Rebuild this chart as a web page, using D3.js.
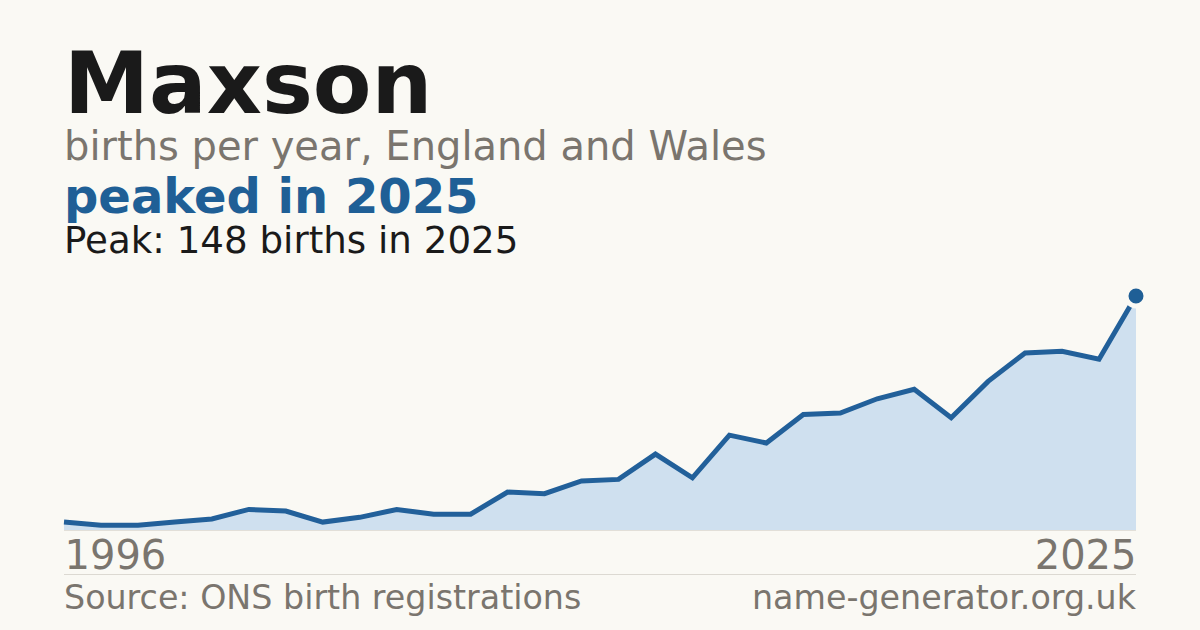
<!DOCTYPE html>
<html>
<head>
<meta charset="utf-8">
<script src="https://cdn.jsdelivr.net/npm/d3@7"></script>
<style>
  html, body { margin: 0; padding: 0; background: #faf9f4; }
  svg { display: block; font-family: "DejaVu Sans", sans-serif; }
</style>
</head>
<body>
<svg id="chart" width="1200" height="630"></svg>
<script>
var years = d3.range(1996, 2026)
var births = [5, 3, 3, 5, 7, 13, 12, 5, 8, 13, 10, 10, 24, 23, 31, 32,
  48, 33, 60, 55, 73, 74, 83, 89, 71, 94, 112, 113, 108, 148]
var tickYears = [1996, 2025]

var data = years.map(function(y, i) { return {year: y, value: births[i]} })
var peak = data.reduce(function(a, b) { return b.value > a.value ? b : a })

var svg = d3.select('#chart')
svg.append('rect').attr('width', 1200).attr('height', 630).attr('fill', '#faf9f4')

var plotLeft = 64, plotRight = 1136, plotBottom = 530, plotTop = 296

var x = d3.scaleLinear().domain([years[0], years[years.length - 1]]).range([plotLeft, plotRight])
var y = d3.scaleLinear().domain([0, peak.value]).range([plotBottom, plotTop])

// headings
svg.append('text').attr('x', plotLeft).attr('y', 113)
  .attr('font-size', 85.5).attr('font-weight', 'bold').attr('fill', '#1a1a1a')
  .text('Maxson')
svg.append('text').attr('x', plotLeft).attr('y', 160)
  .attr('font-size', 40).attr('fill', '#7a756e')
  .text('births per year, England and Wales')
svg.append('text').attr('x', plotLeft).attr('y', 213)
  .attr('font-size', 48).attr('font-weight', 'bold').attr('fill', '#1f5f96')
  .text('peaked in ' + peak.year)
svg.append('text').attr('x', plotLeft).attr('y', 253)
  .attr('font-size', 37.2).attr('fill', '#1a1a1a')
  .text('Peak: ' + peak.value + ' births in ' + peak.year)

// area + line
var area = d3.area()
  .x(function(d) { return x(d.year) })
  .y0(plotBottom)
  .y1(function(d) { return y(d.value) })
var line = d3.line()
  .x(function(d) { return x(d.year) })
  .y(function(d) { return y(d.value) })

svg.append('path').datum(data).attr('d', area).attr('fill', '#cfe0ef')
svg.append('line').attr('x1', plotLeft).attr('x2', plotRight)
  .attr('y1', plotBottom + 0.5).attr('y2', plotBottom + 0.5)
  .attr('stroke', '#e2dfd8').attr('stroke-width', 1)
svg.append('path').datum(data).attr('d', line)
  .attr('fill', 'none').attr('stroke', '#22609a').attr('stroke-width', 5)
  .attr('stroke-linejoin', 'miter')

svg.append('circle').attr('cx', x(peak.year)).attr('cy', y(peak.value)).attr('r', 10)
  .attr('fill', '#1f5f96').attr('stroke', '#faf9f4').attr('stroke-width', 5)

// x axis: end labels only
var xAxis = d3.axisBottom(x).tickValues(tickYears).tickFormat(d3.format('d')).tickSize(0)
var g = svg.append('g').attr('transform', 'translate(0,' + plotBottom + ')').call(xAxis)
g.select('.domain').remove()
g.selectAll('text')
  .attr('font-size', 40).attr('fill', '#7a756e').attr('font-family', '"DejaVu Sans", sans-serif')
  .attr('dy', null).attr('y', 39)
  .attr('text-anchor', function(d, i) { return i === 0 ? 'start' : 'end' })

// footer
svg.append('line').attr('x1', plotLeft).attr('x2', plotRight).attr('y1', 574.5).attr('y2', 574.5)
  .attr('stroke', '#dcd9d2').attr('stroke-width', 1)
svg.append('text').attr('x', plotLeft).attr('y', 609)
  .attr('font-size', 33.3).attr('fill', '#7a756e')
  .text('Source: ONS birth registrations')
svg.append('text').attr('x', plotRight).attr('y', 609).attr('text-anchor', 'end')
  .attr('font-size', 33.3).attr('fill', '#7a756e')
  .text('name-generator.org.uk')
</script>
</body>
</html>
